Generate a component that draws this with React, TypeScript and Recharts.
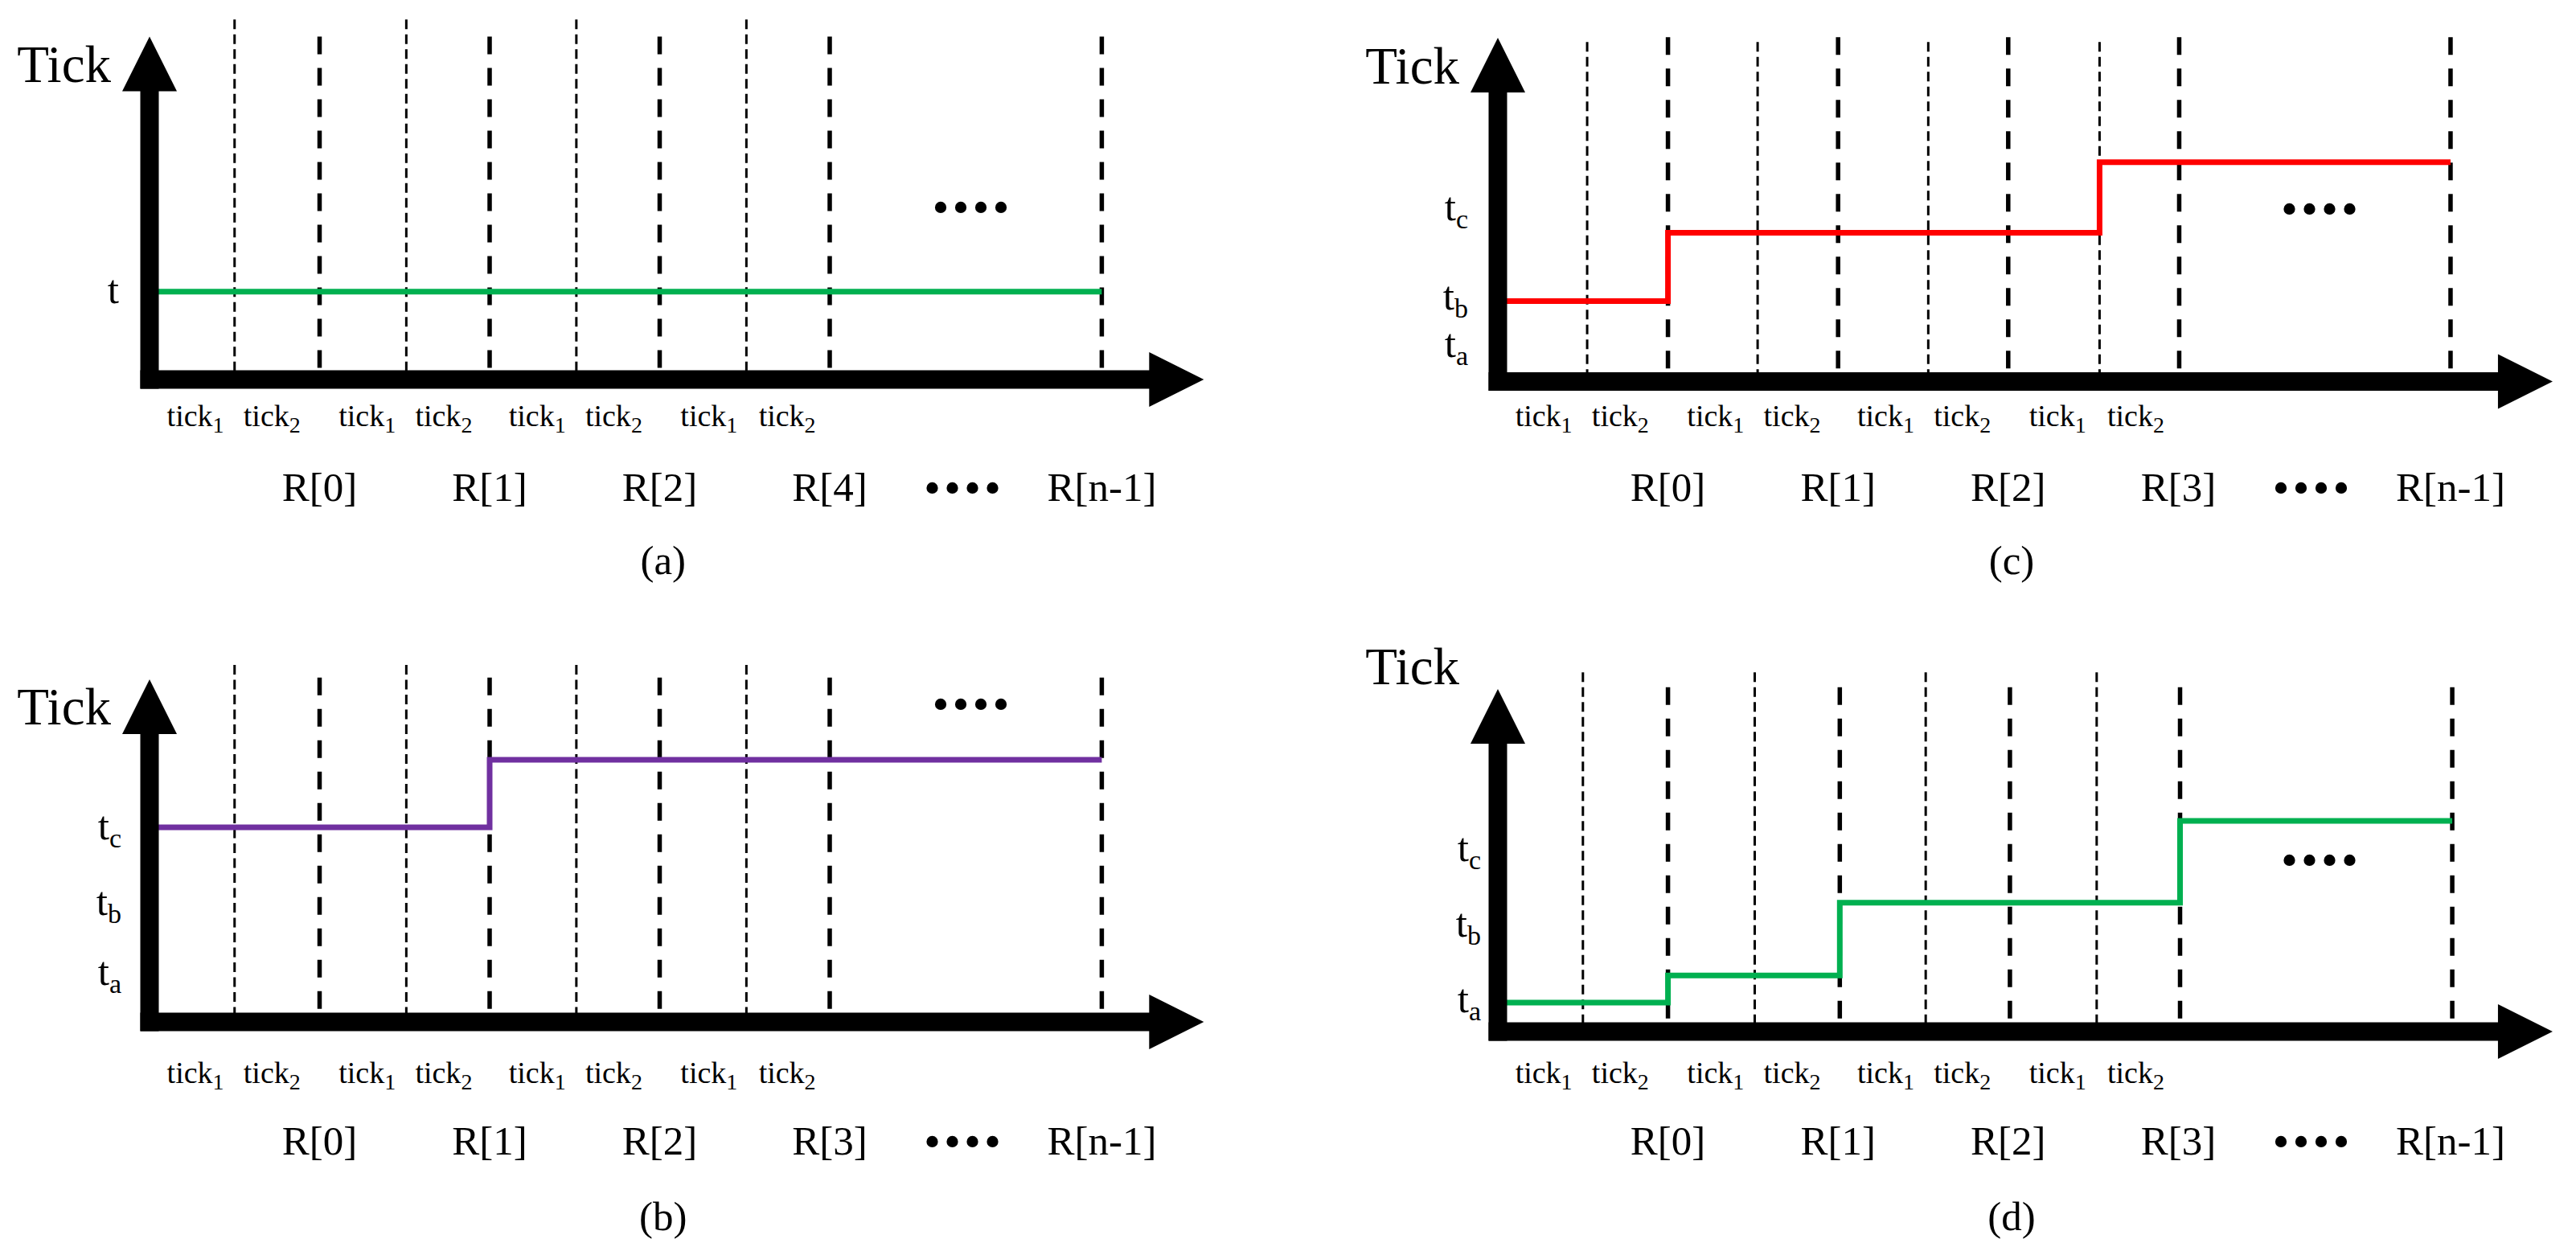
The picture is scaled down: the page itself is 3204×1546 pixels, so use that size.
import React from 'react';
import { LineChart, Line, XAxis, YAxis, ReferenceLine, ReferenceDot } from 'recharts';

const FONT = '"Liberation Serif", "Times New Roman", Times, serif';

// ---------- shared axis-label data (x in R-interval units from the Tick axis) ----------
const tickRowPos = [0.27, 0.72, 1.28, 1.73, 2.28, 2.73, 3.29, 3.75];
const tickRowSub = ['1', '2', '1', '2', '1', '2', '1', '2'];
const rRowPos = [1, 2, 3, 4, 4.78, 5.6];
const rLabelsA = ['R[0]', 'R[1]', 'R[2]', 'R[4]', '••••', 'R[n-1]'];
const rLabelsB = ['R[0]', 'R[1]', 'R[2]', 'R[3]', '••••', 'R[n-1]'];
const rLabelsC = ['R[0]', 'R[1]', 'R[2]', 'R[3]', '••••', 'R[n-1]'];
const rLabelsD = ['R[0]', 'R[1]', 'R[2]', 'R[3]', '••••', 'R[n-1]'];
const captionLabels = ['(a)', '(b)', '(c)', '(d)'];
const ellipsisText = '••••';

// ---------- panel (a) ----------
const thinA = [0.5, 1.51, 2.51, 3.51];
const thickA = [1, 2, 3, 4, 5.6];
const stepA = [{ x: 0, v: 25.6 }, { x: 5.6, v: 25.6 }];
const yTickA = [25.6];
const ySubA = [''];
const dotsA = { x: 4.83, v: 49.7 };

// ---------- panel (b) ----------
const thinB = [0.5, 1.51, 2.51, 3.51];
const thickB = [1, 2, 3, 4, 5.6];
const stepB = [{ x: 0, v: 56.8 }, { x: 2, v: 76.5 }, { x: 5.6, v: 76.5 }];
const yTickB = [14.2, 34.5, 56.6];
const ySubB = ['a', 'b', 'c'];
const dotsB = { x: 4.83, v: 92.3 };

// ---------- panel (c) ----------
const thinC = [0.525, 1.527, 2.53, 3.537];
const thickC = [1, 2, 3, 4.005, 5.6];
const stepC = [{ x: 0, v: 23.4 }, { x: 1, v: 43.3 }, { x: 3.537, v: 63.8 }, { x: 5.6, v: 63.8 }];
const yTickC = [10.4, 24.2, 50.2];
const ySubC = ['a', 'b', 'c'];
const dotsC = { x: 4.83, v: 49.7 };

// ---------- panel (d) ----------
const thinD = [0.5, 1.51, 2.515, 3.52];
const thickD = [1, 2.01, 3.01, 4.01, 5.61];
const stepD = [{ x: 0, v: 8.45 }, { x: 1, v: 16.4 }, { x: 2.01, v: 37.6 }, { x: 4.01, v: 61.5 }, { x: 5.61, v: 61.5 }];
const yTickD = [8.9, 31.1, 53.1];
const ySubD = ['a', 'b', 'c'];
const dotsD = { x: 4.83, v: 49.5 };

const X_MAX = 6.2;
const CH_W = 1600;
const CH_H = 773;

type Pt = { x: number; v: number };
type Cfg = {
  left: number; top: number;
  axisX: number; axisY: number; tipY: number; unitX: number;
  thin: number[]; thick: number[]; thinTop: number; thickTop: number;
  line: Pt[]; color: string;
  yTicks: number[]; ySubs: string[]; yGap: number;
  dots: Pt; rLabels: string[]; caption: string;
  tickRowDy: number; rRowDy: number; captionDy: number; titleDy: number;
};

const near = (a: number, b: number) => Math.abs(a - b) < 1e-6;

function Panel({ cfg }: { cfg: Cfg }) {
  const YW = 10;
  const XH = 10;
  const margin = {
    left: cfg.axisX - YW,
    top: cfg.tipY,
    right: CH_W - (cfg.axisX + X_MAX * cfg.unitX),
    bottom: CH_H - cfg.axisY - XH,
  };
  const ppu = (cfg.axisY - cfg.tipY) / 100; // px per y unit
  const xTicks = [...tickRowPos, ...rRowPos].sort((a, b) => a - b);

  const renderXTick = (p: any) => {
    const { x, y, payload } = p;
    const v = payload.value;
    let i = tickRowPos.findIndex((q) => near(q, v));
    if (i >= 0) {
      return (
        <text x={x} y={y + cfg.tickRowDy} textAnchor="middle" fontFamily={FONT} fontSize={38} fill="#000">
          tick<tspan fontSize={28} dy={8}>{tickRowSub[i]}</tspan>
        </text>
      );
    }
    i = rRowPos.findIndex((q) => near(q, v));
    if (i >= 0) {
      const lab = cfg.rLabels[i];
      if (lab === ellipsisText) {
        return (
          <text x={x + 2} y={y + cfg.rRowDy + 4} textAnchor="middle" fontFamily={FONT} fontSize={60} letterSpacing={4} fill="#000">
            {lab}
          </text>
        );
      }
      return (
        <text x={x} y={y + cfg.rRowDy} textAnchor="middle" fontFamily={FONT} fontSize={51} fill="#000">
          {lab}
        </text>
      );
    }
    return <g />;
  };

  const renderYTick = (p: any) => {
    const { x, y, payload } = p;
    const i = cfg.yTicks.findIndex((q) => near(q, payload.value));
    const sub = i >= 0 ? cfg.ySubs[i] : '';
    return (
      <text x={x - cfg.yGap} y={y + 14} textAnchor="end" fontFamily={FONT} fontSize={51} fill="#000">
        t{sub ? <tspan fontSize={34} dy={10}>{sub}</tspan> : null}
      </text>
    );
  };

  const ax = { xAxisId: 'x', yAxisId: 'y' } as const;
  const yAxisBottom = -11.5 / ppu;
  const yAxisTop = 100 - 67 / ppu;
  const xAxisLeft = -11.5 / cfg.unitX;
  const xAxisRight = X_MAX - 67 / cfg.unitX;

  return (
    <div style={{ position: 'absolute', left: cfg.left, top: cfg.top, width: CH_W, height: CH_H }}>
      <LineChart width={CH_W} height={CH_H} margin={margin}>
        <XAxis
          xAxisId="x" type="number" dataKey="x" domain={[0, X_MAX]} allowDataOverflow
          ticks={xTicks} interval={0} axisLine={false} tickLine={false} tickSize={0} tickMargin={0}
          height={XH} tick={renderXTick}
        />
        <YAxis
          yAxisId="y" type="number" domain={[0, 100]} allowDataOverflow
          ticks={cfg.yTicks} interval={0} axisLine={false} tickLine={false} tickSize={0} tickMargin={0}
          width={YW} tick={renderYTick}
        />
        {cfg.thin.map((t, k) => (
          <ReferenceLine
            key={'thin' + k} {...ax} ifOverflow="visible"
            segment={[{ x: t, y: cfg.thinTop }, { x: t, y: 0 }]}
            stroke="#000" strokeWidth={3} strokeDasharray="12 6.5"
          />
        ))}
        {cfg.thick.map((t, k) => (
          <ReferenceLine
            key={'thick' + k} {...ax} ifOverflow="visible"
            segment={[{ x: t, y: cfg.thickTop }, { x: t, y: 0 }]}
            stroke="#000" strokeWidth={5.5} strokeDasharray="22 17"
          />
        ))}
        <Line
          {...ax} data={cfg.line} dataKey="v" type="stepAfter" stroke={cfg.color} strokeWidth={7}
          dot={false} activeDot={false} isAnimationActive={false}
        />
        <ReferenceLine
          {...ax} ifOverflow="visible" segment={[{ x: 0, y: yAxisBottom }, { x: 0, y: yAxisTop }]}
          stroke="#000" strokeWidth={23}
        />
        <ReferenceLine
          {...ax} ifOverflow="visible" segment={[{ x: xAxisLeft, y: 0 }, { x: xAxisRight, y: 0 }]}
          stroke="#000" strokeWidth={23}
        />
        <ReferenceDot
          {...ax} x={0} y={100} ifOverflow="visible"
          shape={(p: any) => (
            <polygon points={`${p.cx},${p.cy} ${p.cx - 34},${p.cy + 68} ${p.cx + 34},${p.cy + 68}`} fill="#000" />
          )}
        />
        <ReferenceDot
          {...ax} x={X_MAX} y={0} ifOverflow="visible"
          shape={(p: any) => (
            <polygon points={`${p.cx},${p.cy} ${p.cx - 68},${p.cy - 34} ${p.cx - 68},${p.cy + 34}`} fill="#000" />
          )}
        />
        <ReferenceDot
          {...ax} x={0} y={100} ifOverflow="visible"
          shape={(p: any) => (
            <text x={p.cx - 48} y={p.cy + cfg.titleDy} textAnchor="end" fontFamily={FONT} fontSize={65} fill="#000">
              Tick
            </text>
          )}
        />
        <ReferenceDot
          {...ax} x={cfg.dots.x} y={cfg.dots.v} ifOverflow="visible"
          shape={(p: any) => (
            <text x={p.cx + 2} y={p.cy + 18} textAnchor="middle" fontFamily={FONT} fontSize={60} letterSpacing={4} fill="#000">
              {ellipsisText}
            </text>
          )}
        />
        <ReferenceDot
          {...ax} x={3.02} y={0} ifOverflow="visible"
          shape={(p: any) => (
            <text x={p.cx} y={p.cy + cfg.captionDy} textAnchor="middle" fontFamily={FONT} fontSize={51} fill="#000">
              {cfg.caption}
            </text>
          )}
        />
      </LineChart>
    </div>
  );
}

const GREEN = '#00B050';
const RED = '#FF0000';
const PURPLE = '#7030A0';

const panels: Cfg[] = [
  {
    left: 0, top: 0, axisX: 186, axisY: 472, tipY: 45.6, unitX: 211.5,
    thin: thinA, thick: thickA, thinTop: 105, thickTop: 100,
    line: stepA, color: GREEN, yTicks: yTickA, ySubs: ySubA, yGap: 38,
    dots: dotsA, rLabels: rLabelsA, caption: captionLabels[0],
    tickRowDy: 58, rRowDy: 151, captionDy: 242, titleDy: 56,
  },
  {
    left: 0, top: 773, axisX: 186, axisY: 498, tipY: 72, unitX: 211.5,
    thin: thinB, thick: thickB, thinTop: 104.2, thickTop: 100.5,
    line: stepB, color: PURPLE, yTicks: yTickB, ySubs: ySubB, yGap: 35,
    dots: dotsB, rLabels: rLabelsB, caption: captionLabels[1],
    tickRowDy: 76, rRowDy: 165, captionDy: 259, titleDy: 56,
  },
  {
    left: 1604, top: 0, axisX: 259, axisY: 474.5, tipY: 47, unitX: 211.6,
    thin: thinC, thick: thickC, thinTop: 98.8, thickTop: 100.2,
    line: stepC, color: RED, yTicks: yTickC, ySubs: ySubC, yGap: 37,
    dots: dotsC, rLabels: rLabelsC, caption: captionLabels[2],
    tickRowDy: 55.5, rRowDy: 148.5, captionDy: 239.5, titleDy: 57,
  },
  {
    left: 1604, top: 773, axisX: 259, axisY: 510, tipY: 84, unitX: 211.6,
    thin: thinD, thick: thickD, thinTop: 104.9, thickTop: 100.5,
    line: stepD, color: GREEN, yTicks: yTickD, ySubs: ySubD, yGap: 21,
    dots: dotsD, rLabels: rLabelsD, caption: captionLabels[3],
    tickRowDy: 64, rRowDy: 153, captionDy: 247, titleDy: -6,
  },
];

export default function App() {
  return (
    <div style={{ position: 'absolute', left: 0, top: 0, width: 3204, height: 1546, background: '#fff', overflow: 'hidden' }}>
      {panels.map((c, i) => (
        <Panel key={i} cfg={c} />
      ))}
    </div>
  );
}
